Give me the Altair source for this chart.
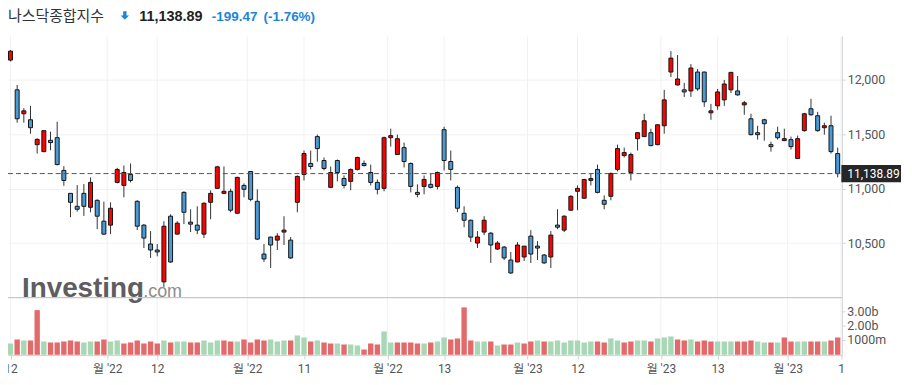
import json
import altair as alt
import pandas as pd

# ---------------- data ----------------
title_name = "나스닥종합지수"
last_price_text = "11,138.89"
change_text = "-199.47"
change_pct_text = "(-1.76%)"

opens = [12183, 11909, 11689, 11634, 11405, 11341, 11445, 11469, 11168, 10957,
         10838, 10957, 10829, 10893, 10701, 10665, 11058, 11030, 11131, 10884,
         10665, 10491, 10436, 10143, 10747, 10582, 10966, 10692, 10665, 10582,
         10875, 11003, 10957, 10976, 10774, 11030, 11158, 10884, 10399, 10555,
         10527, 10601, 10527, 10875, 11131, 11232, 11479, 11259, 11012, 11259,
         11094, 11067, 11177, 11232, 11149, 11058, 11003, 11469, 11314, 11378,
         11232, 10966, 11021, 11040, 11021, 11543, 11250, 11012, 10774, 10710,
         10500, 10601, 10591, 10445, 10463, 10344, 10326, 10372, 10564, 10472,
         10390, 10372, 10665, 10619, 10802, 10976, 10912, 11076, 11177, 10893,
         10930, 11177, 11305, 11149, 11460, 11479, 11515, 11405, 11579, 12073,
         11954, 11909, 11899, 12073, 12073, 11698, 11762, 11817, 11909, 11899,
         11771, 11643, 11515, 11634, 11405, 11515, 11442, 11451, 11277, 11534,
         11735, 11671, 11561, 11579, 11323]

highs = [12275, 11954, 11741, 11762, 11463, 11534, 11524, 11616, 11207, 10960,
         11033, 11042, 11104, 10902, 10881, 10875, 11192, 11213, 11232, 10893,
         10674, 10610, 10491, 10701, 10765, 10701, 10976, 10811, 10838, 10875,
         10985, 11210, 11204, 11000, 11110, 11049, 11160, 10994, 10491, 10557,
         10591, 10747, 10555, 11122, 11351, 11351, 11497, 11287, 11204, 11268,
         11122, 11186, 11295, 11259, 11222, 11085, 11479, 11552, 11497, 11424,
         11241, 11040, 11122, 11140, 11158, 11570, 11351, 11030, 10838, 10715,
         10610, 10747, 10601, 10518, 10472, 10418, 10509, 10472, 10619, 10518,
         10399, 10610, 10811, 10756, 10939, 11030, 11090, 11140, 11222, 10939,
         11149, 11405, 11378, 11332, 11520, 11689, 11552, 11592, 11909, 12265,
         12229, 11973, 12146, 12101, 12075, 11780, 11918, 12000, 12073, 12037,
         11808, 11689, 11579, 11643, 11433, 11570, 11552, 11479, 11488, 11698,
         11826, 11707, 11607, 11671, 11378]

lows = [12170, 11607, 11607, 11506, 11323, 11335, 11354, 11215, 11027, 10738,
        10790, 10750, 10783, 10628, 10578, 10582, 11049, 10921, 11058, 10619,
        10454, 10363, 10378, 10097, 10317, 10580, 10674, 10601, 10582, 10546,
        10719, 11000, 10955, 10783, 10772, 10921, 10884, 10527, 10326, 10271,
        10436, 10482, 10354, 10783, 11076, 11177, 11250, 11168, 11010, 11067,
        11003, 10985, 11168, 11204, 11030, 10948, 10976, 11387, 11310, 11195,
        10966, 10921, 10948, 11003, 10994, 11168, 11076, 10783, 10646, 10509,
        10454, 10573, 10317, 10436, 10344, 10216, 10324, 10335, 10317, 10344,
        10310, 10271, 10628, 10601, 10800, 10802, 10910, 11030, 10957, 10811,
        10893, 11158, 11287, 11076, 11351, 11477, 11390, 11400, 11506, 12027,
        11950, 11844, 11844, 11900, 11753, 11634, 11726, 11762, 11880, 11855,
        11680, 11490, 11451, 11442, 11341, 11451, 11440, 11360, 11275, 11524,
        11671, 11524, 11497, 11323, 11104]

closes = [12265, 11643, 11716, 11561, 11454, 11534, 11424, 11222, 11076, 10875,
          10811, 10838, 11058, 10747, 10582, 10820, 11177, 11149, 11076, 10655,
          10546, 10436, 10418, 10655, 10326, 10683, 10783, 10674, 10619, 10866,
          10957, 11201, 10976, 10802, 11104, 10994, 10902, 10536, 10354, 10482,
          10564, 10619, 10363, 11113, 11323, 11204, 11369, 11186, 11149, 11149,
          11030, 11177, 11287, 11213, 11058, 10994, 11469, 11488, 11460, 11250,
          11021, 10948, 11085, 11012, 11149, 11259, 11177, 10820, 10710, 10555,
          10555, 10710, 10482, 10500, 10363, 10225, 10482, 10472, 10399, 10454,
          10317, 10573, 10646, 10747, 10930, 11003, 11085, 11094, 10966, 10857,
          11140, 11369, 11332, 11314, 11515, 11625, 11396, 11588, 11817, 12201,
          12009, 11890, 12110, 11918, 11799, 11716, 11890, 11963, 12070, 11863,
          11790, 11497, 11497, 11598, 11387, 11469, 11460, 11387, 11460, 11689,
          11680, 11534, 11579, 11341, 11138.89]

# volume in billions
volumes = [0.79, 1.07, 1.0, 1.0, 3.12, 0.93, 0.86, 0.86, 0.93, 1.0,
           0.93, 0.86, 0.93, 0.93, 1.07, 0.93, 1.0, 0.79, 0.86, 1.0,
           0.79, 0.93, 0.79, 1.0, 0.86, 0.93, 0.93, 0.86, 0.86, 1.0,
           0.86, 1.0, 1.0, 0.93, 0.93, 1.07, 0.86, 1.07, 1.0, 1.07,
           0.93, 1.0, 1.0, 1.35, 1.21, 0.93, 1.0, 0.86, 0.79, 0.79,
           0.72, 0.72, 0.65, 0.37, 0.79, 0.72, 1.63, 0.86, 0.86, 0.86,
           0.86, 0.79, 0.79, 0.86, 0.93, 1.21, 1.07, 1.14, 3.31, 1.0,
           0.93, 0.93, 0.93, 0.65, 0.72, 0.72, 0.86, 0.79, 0.93, 1.0,
           0.93, 0.93, 1.0, 0.86, 1.0, 1.0, 0.86, 0.93, 0.93, 0.86,
           1.14, 1.0, 0.86, 0.93, 1.0, 1.0, 0.93, 1.14, 1.21, 1.28,
           1.07, 1.0, 1.07, 0.93, 1.0, 0.93, 0.93, 0.93, 0.93, 0.93,
           0.93, 1.0, 0.93, 0.86, 0.86, 0.86, 1.21, 0.93, 0.93, 0.93,
           0.93, 0.93, 0.93, 1.0, 1.21]

# 1 = green volume bar, 0 = red volume bar
vol_up = [1, 0, 1, 0, 0, 1, 0, 0, 0, 0,
          0, 1, 1, 0, 0, 1, 1, 0, 0, 0,
          0, 0, 0, 1, 0, 1, 1, 0, 0, 1,
          1, 1, 0, 0, 1, 0, 0, 0, 0, 1,
          1, 1, 0, 1, 1, 0, 1, 0, 0, 1,
          0, 1, 1, 0, 0, 0, 1, 1, 0, 0,
          0, 0, 1, 0, 1, 1, 0, 0, 0, 0,
          1, 1, 0, 1, 0, 0, 1, 0, 0, 1,
          0, 1, 1, 1, 1, 1, 1, 1, 0, 0,
          1, 1, 0, 0, 1, 1, 0, 1, 1, 1,
          0, 0, 1, 0, 0, 0, 1, 1, 1, 0,
          0, 0, 1, 1, 0, 1, 0, 0, 1, 1,
          0, 0, 1, 0, 0]

tick_pos = [0, 14.5, 22, 35.5, 44, 56.5, 65, 77.5, 85, 97.5, 106, 116.5, 124.5]
tick_labels = ["12", "월 '22", "12", "월 '22", "11", "월 '22", "13", "월 '23",
               "12", "월 '23", "13", "월 '23", "1"]
price_ticks = [10500, 11000, 11500, 12000]
vol_ticks = [1.0, 2.0, 3.0]
vol_tick_labels = ["1000m", "2.00b", "3.00b"]

# ---------------- styling ----------------
RED = "#ff0000"
BLUE = "#4a9ad6"
VRED = "#e26a6a"
VGREEN = "#a7d7b5"
HDR_BLUE = "#1a86d8"
GRID = "#f1f1f1"
AXIS = "#cfd3d8"
LBL = "#555555"
LFONT = "Roboto, Noto Sans CJK KR"

n = len(closes)
df = pd.DataFrame({
    "i": list(range(n)),
    "open": opens, "high": highs, "low": lows, "close": closes,
    "volume": volumes,
    "dir": ["up" if c > o else "down" for o, c in zip(opens, closes)],
    "vdir": ["g" if v else "r" for v in vol_up],
})
ticks_df = pd.DataFrame({"pos": tick_pos, "label": tick_labels})
vt_df = pd.DataFrame({"v": vol_ticks, "label": vol_tick_labels})
last_df = pd.DataFrame({"p": [closes[-1]], "label": [last_price_text]})

X = alt.Scale(domain=[-0.373, 124.7], range=[0, 839], nice=False, zero=False, padding=0)
PY = alt.Scale(domain=[10000, 12400], range=[290, 27.6], nice=False, zero=False, padding=0)
VY = alt.Scale(domain=[0, 4], range=[347.7, 290.1], nice=False, zero=False, padding=0)

label_expr = "{}[indexof({}, datum.value)]".format(
    json.dumps(tick_labels, ensure_ascii=False), json.dumps(tick_pos))
XAXIS = alt.Axis(
    values=tick_pos, labelExpr=label_expr, grid=False, domain=True,
    domainColor=AXIS, ticks=True, tickColor=AXIS, tickSize=4,
    labelColor=LBL, labelFontSize=12, labelFont=LFONT, labelPadding=5,
    labelOverlap=False, labelFlush=False, title=None, orient="bottom")


def xenc(field):
    return alt.X(field, scale=X, axis=XAXIS)


# vertical grid
vgrid = alt.Chart(ticks_df).mark_rule(color=GRID, strokeWidth=1).encode(
    x=xenc("pos:Q"), y=alt.value(27.6), y2=alt.value(347.7),
)

# watermark
wm1 = alt.Chart(pd.DataFrame({"t": ["Investing"]})).mark_text(
    align="left", baseline="alphabetic", font="Liberation Sans", fontWeight="bold",
    fontSize=28, color="#5e5e5e").encode(x=alt.value(14), y=alt.value(290), text="t:N")
wm2 = alt.Chart(pd.DataFrame({"t": [".com"]})).mark_text(
    align="left", baseline="alphabetic", font="Liberation Sans",
    fontSize=18, color="#8c8c8c").encode(x=alt.value(136), y=alt.value(290), text="t:N")

# separator between panels and right axis line
sep = alt.Chart(pd.DataFrame({"a": [0]})).mark_rule(color="#c8c8c8", strokeWidth=1.2).encode(
    x=alt.value(0), x2=alt.value(839), y=alt.value(290.3))
raxis = alt.Chart(pd.DataFrame({"a": [0]})).mark_rule(color=AXIS, strokeWidth=1).encode(
    x=alt.value(839), y=alt.value(27.6), y2=alt.value(347.7))

# candles
wicks = alt.Chart(df).mark_rule(color="#333333", strokeWidth=1).encode(
    x=xenc("i:Q"),
    y=alt.Y("low:Q", scale=PY, axis=alt.Axis(
        orient="right", values=price_ticks, format=",.0f", grid=True, gridColor=GRID,
        domain=False, ticks=True, tickSize=3, tickColor=AXIS, labelColor=LBL,
        labelFontSize=12.5, labelFont=LFONT, labelPadding=2, title=None)),
    y2="high:Q",
)
bodies = alt.Chart(df).mark_bar(size=4, stroke="#151515", strokeWidth=1).encode(
    x=xenc("i:Q"),
    y=alt.Y("open:Q", scale=PY, axis=None),
    y2="close:Q",
    color=alt.Color("dir:N", scale=alt.Scale(domain=["up", "down"], range=[RED, BLUE]), legend=None),
)

# last price dashed line and box
dash = alt.Chart(last_df).mark_rule(color="#555555", strokeDash=[5, 3], strokeWidth=1).encode(
    y=alt.Y("p:Q", scale=PY, axis=None), x=alt.value(0), x2=alt.value(839))
box = alt.Chart(last_df).mark_rule(color="#262626", strokeWidth=17.4, strokeCap="butt").encode(
    y=alt.Y("p:Q", scale=PY, axis=None), x=alt.value(838), x2=alt.value(898))
box_txt = alt.Chart(last_df).mark_text(align="left", baseline="middle", color="white",
                                        fontSize=12, font=LFONT).encode(
    y=alt.Y("p:Q", scale=PY, axis=None), x=alt.value(844), text="label:N")

# volume
vbars = alt.Chart(df).mark_bar(size=5.4).encode(
    x=xenc("i:Q"),
    y=alt.Y("volume:Q", scale=VY, axis=None),
    color=alt.Color("vdir:N", scale=alt.Scale(domain=["g", "r"], range=[VGREEN, VRED]), legend=None),
)
vt_ticks = alt.Chart(vt_df).mark_rule(color=AXIS).encode(
    y=alt.Y("v:Q", scale=VY, axis=None), x=alt.value(839), x2=alt.value(842))
vt_lbl = alt.Chart(vt_df).mark_text(align="left", baseline="middle", color=LBL,
                                     fontSize=12.5, font=LFONT).encode(
    y=alt.Y("v:Q", scale=VY, axis=None), x=alt.value(844), text="label:N")

# header
HY = 12.0
hdr_name = alt.Chart(pd.DataFrame({"t": [title_name]})).mark_text(
    align="left", baseline="alphabetic", font="Noto Sans CJK KR", fontSize=15,
    color="#333333").encode(x=alt.value(0), y=alt.value(HY + 0.5), text="t:N")
arrow_path = "M-0.4,-1L0.4,-1L0.4,0L1,0L0,1L-1,0L-0.4,0Z"
hdr_arrow = alt.Chart(pd.DataFrame({"a": [0]})).mark_point(
    shape=arrow_path, filled=True, size=72, color=HDR_BLUE, opacity=1, strokeWidth=0).encode(
    x=alt.value(117.5), y=alt.value(HY - 5.5))
hdr_price = alt.Chart(pd.DataFrame({"t": [last_price_text]})).mark_text(
    align="left", baseline="alphabetic", font="Liberation Sans", fontWeight="bold",
    fontSize=14.5, color="#222222").encode(x=alt.value(132), y=alt.value(HY), text="t:N")
hdr_chg = alt.Chart(pd.DataFrame({"t": [change_text]})).mark_text(
    align="left", baseline="alphabetic", font="Liberation Sans", fontWeight="bold",
    fontSize=13.5, color=HDR_BLUE).encode(x=alt.value(205), y=alt.value(HY), text="t:N")
hdr_pct = alt.Chart(pd.DataFrame({"t": [change_pct_text]})).mark_text(
    align="left", baseline="alphabetic", font="Liberation Sans", fontWeight="bold",
    fontSize=13.5, color=HDR_BLUE).encode(x=alt.value(257), y=alt.value(HY), text="t:N")

chart = alt.layer(
    vgrid, wm1, wm2, sep, raxis, vbars, vt_ticks, vt_lbl,
    wicks, bodies, dash, box, box_txt,
    hdr_name, hdr_arrow, hdr_price, hdr_chg, hdr_pct,
).resolve_scale(y="independent", color="independent").properties(
    width=839, height=348,
    padding={"left": 0, "top": 0, "right": 62, "bottom": 22},
    autosize=alt.AutoSizeParams(type="none"),
    background="white",
).configure_view(stroke=None)

chart.save("out.html", embed_options={"renderer": "svg", "actions": False})
